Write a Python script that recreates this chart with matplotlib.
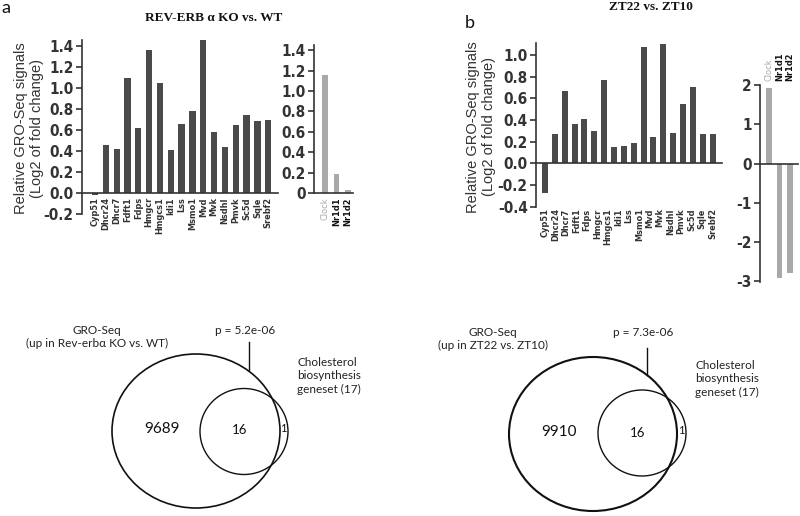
import numpy as np
import matplotlib
matplotlib.use("Agg")
import matplotlib.pyplot as plt
from matplotlib.patches import Ellipse
from matplotlib import font_manager as fm
from matplotlib.transforms import blended_transform_factory

# ---------------- data ----------------
genes = ["Cyp51", "Dhcr24", "Dhcr7", "Fdft1", "Fdps", "Hmgcr", "Hmgcs1", "Idi1", "Lss",
         "Msmo1", "Mvd", "Mvk", "Nsdhl", "Pmvk", "Sc5d", "Sqle", "Srebf2"]
ko_values = [-0.02, 0.46, 0.42, 1.10, 0.62, 1.36, 1.05, 0.41, 0.66,
             0.78, 1.46, 0.58, 0.44, 0.65, 0.74, 0.69, 0.70]
clock_genes = ["Clock", "Nr1d1", "Nr1d2"]
ko_clock_values = [1.16, 0.19, 0.03]
zt_values = [-0.27, 0.27, 0.67, 0.36, 0.41, 0.30, 0.77, 0.15, 0.16,
             0.19, 1.07, 0.24, 1.10, 0.28, 0.55, 0.70, 0.27, 0.27]
zt_clock_values = [1.92, -2.92, -2.78]
ko_ticks = [-0.2, 0.0, 0.2, 0.4, 0.6, 0.8, 1.0, 1.2, 1.4]
ko_clock_ticks = [0, 0.2, 0.4, 0.6, 0.8, 1.0, 1.2, 1.4]
zt_ticks = [-0.4, -0.2, 0.0, 0.2, 0.4, 0.6, 0.8, 1.0]
zt_clock_ticks = [-3, -2, -1, 0, 1, 2]
venn_a = {"only": "9689", "both": "16", "gene_only": "1", "p": "p = 5.2e-06",
          "label": "GRO-Seq\n(up in Rev-erbα KO vs. WT)"}
venn_b = {"only": "9910", "both": "16", "gene_only": "1", "p": "p = 7.3e-06",
          "label": "GRO-Seq\n(up in ZT22 vs. ZT10)"}
geneset_label = "Cholesterol\nbiosynthesis\ngeneset (17)"

# ---------------- fonts ----------------
avail = {f.name for f in fm.fontManager.ttflist}
has_narrow = "Liberation Sans Narrow" in avail
NARROW = ["Liberation Sans Narrow"] if has_narrow else ["DejaVu Sans"]
STRETCH = "normal" if has_narrow else "condensed"
SANS = [f for f in ["Liberation Sans", "DejaVu Sans"] if f in avail]
CAL = [f for f in ["Lato", "Open Sans", "DejaVu Sans"] if f in avail]
SERIF = [f for f in ["Liberation Serif", "DejaVu Serif"] if f in avail]

W, H = 800, 516
fig = plt.figure(figsize=(8, 5.16), dpi=100)
fig.patch.set_facecolor("white")

DARK = "#4a4a4a"
LIGHT = "#a9a9a9"
TXT = "#333333"


def px_axes(left, right, top, bottom):
    return fig.add_axes([left / W, 1 - bottom / H, (right - left) / W, (bottom - top) / H])


def style(ax, yticks, ylabels, fs=11):
    for s in ["top", "right"]:
        ax.spines[s].set_visible(False)
    ax.spines["left"].set_color(TXT)
    ax.spines["left"].set_linewidth(1.2)
    ax.spines["bottom"].set_color(TXT)
    ax.spines["bottom"].set_linewidth(1.2)
    ax.spines["bottom"].set_position(("data", 0))
    ax.set_yticks(yticks)
    ax.set_yticklabels(ylabels, fontfamily=NARROW, fontstretch=STRETCH, fontweight="bold",
                       fontsize=fs, color=TXT)
    ax.tick_params(axis="y", length=4, width=1.2, color=TXT, pad=2)
    ax.set_xticks([])
    ax.patch.set_alpha(0)


def fmt1(v):
    return f"{v:.1f}"


def glabel(ax, x, y, g, va, transform, color=TXT, weight="bold"):
    ax.text(x, y, g, rotation=90, ha="center", va=va, fontsize=6.6,
            fontfamily=NARROW, fontstretch=STRETCH, fontweight=weight,
            color=color, transform=transform)

# overlay for venn and free text
ov = fig.add_axes([0, 0, 1, 1])
ov.set_xlim(0, W)
ov.set_ylim(H, 0)
ov.axis("off")

# ---- panel a left ----
ax1 = px_axes(82, 278, 39.7, 214)
x1 = np.arange(len(genes))
ax1.bar(x1, ko_values, width=0.58, color=DARK)
ax1.set_xlim(-1.2, len(genes) - 0.1)
ax1.set_ylim(-0.2, 1.46)
style(ax1, ko_ticks, [fmt1(v) for v in ko_ticks])
for xi, g in zip(x1, genes):
    glabel(ax1, xi, -0.04, g, "top", ax1.transData)

# ---- panel a right ----
ax2 = px_axes(314, 353, 45, 193)
x2 = np.arange(len(clock_genes))
ax2.bar(x2, ko_clock_values, width=0.5, color=LIGHT)
ax2.set_xlim(-0.96, 2.43)
ax2.set_ylim(0, 1.45)
style(ax2, ko_clock_ticks, ["0"] + [fmt1(v) for v in ko_clock_ticks[1:]])
for xi, g in zip(x2, clock_genes):
    glabel(ax2, xi, -0.04, g, "top", ax2.transData,
           color=LIGHT if g == "Clock" else "#111111",
           weight="normal" if g == "Clock" else "bold")

# ---- panel b left ----
ax3 = px_axes(536, 722, 43, 206.7)
x3 = np.arange(len(zt_values))
ax3.bar(x3, zt_values, width=0.6, color=DARK)
ax3.set_xlim(-0.91, len(zt_values) - 0.05)
ax3.set_ylim(-0.4, 1.11)
style(ax3, zt_ticks, [fmt1(v) for v in zt_ticks])
trb = blended_transform_factory(ax3.transData, ax3.transAxes)
label_pos = np.linspace(0, len(zt_values) - 1, len(genes))
for xi, g in zip(label_pos, genes):
    glabel(ax3, xi, -0.01, g, "top", trb)

# ---- panel b right ----
ax4 = px_axes(760, 798, 84.5, 282)
x4 = np.arange(len(clock_genes))
ax4.bar(x4, zt_clock_values, width=0.55, color=LIGHT)
ax4.set_xlim(-0.86, 2.76)
ax4.set_ylim(-3.02, 2.02)
style(ax4, zt_clock_ticks, [("-" if v < 0 else "") + str(abs(v)) for v in zt_clock_ticks])
trc = blended_transform_factory(ax4.transData, ax4.transAxes)
for xi, g in zip(x4, clock_genes):
    glabel(ax4, xi, 1.02, g, "bottom", trc,
           color=LIGHT if g == "Clock" else "#111111",
           weight="normal" if g == "Clock" else "bold")

# ---- labels / titles ----
ylab = "Relative GRO-Seq signals\n(Log2 of fold change)"
ov.text(29, 128, ylab, rotation=90, ha="center", va="center", fontsize=10.5,
        fontfamily=SANS, color=TXT, linespacing=1.1)
ov.text(481, 127, ylab, rotation=90, ha="center", va="center", fontsize=10.5,
        fontfamily=SANS, color=TXT, linespacing=1.1)
ov.text(214, 18, "REV-ERB α KO vs. WT", ha="center", va="center", fontsize=9.5,
        fontfamily=SERIF, fontweight="bold", color="#111111")
ov.text(651, 7, "ZT22 vs. ZT10", ha="center", va="center", fontsize=9.5,
        fontfamily=SERIF, fontweight="bold", color="#111111")
ov.text(1, 8, "a", ha="left", va="center", fontsize=13, fontfamily=CAL, color="#111111")
ov.text(470, 23, "b", ha="center", va="center", fontsize=13, fontfamily=CAL, color="#111111")

# ---- venn diagrams ----
def venn(cx, cy, scx, scy, d, lx, ly, px, py, lnx, lny0, lny1, gx, gy, lw_big):
    ov.add_patch(Ellipse((cx, cy), 168, 154, fill=False, ec="#111111", lw=lw_big))
    ov.add_patch(Ellipse((scx, scy), 88, 86, fill=False, ec="#111111", lw=1.0))
    ov.text(cx - 34, cy - 2, d["only"], ha="center", va="center", fontsize=11,
            fontfamily=CAL, color="#111111")
    ov.text(scx - 4, cy - 1, d["both"], ha="center", va="center", fontsize=9.5,
            fontfamily=CAL, color="#111111")
    ov.text(scx + 39, cy - 3, d["gene_only"], ha="center", va="center", fontsize=8,
            fontfamily=CAL, color="#111111")
    ov.text(lx, ly, d["label"], ha="center", va="center", fontsize=8.5,
            fontfamily=CAL, color="#222222", linespacing=1.25)
    ov.text(px, py, d["p"], ha="center", va="center", fontsize=8.5,
            fontfamily=CAL, color="#222222")
    ov.plot([lnx, lnx], [lny0, lny1], color="#111111", lw=1.0)
    ov.text(gx, gy, geneset_label, ha="left", va="center", fontsize=8.5,
            fontfamily=CAL, color="#222222", linespacing=1.3)

venn(196, 431, 244, 431.5, venn_a, 97, 337, 245, 330, 249, 342, 370, 297, 376, 1.2)
venn(593, 434, 642, 433, venn_b, 493, 339, 643, 333, 647, 348, 375, 695, 379, 1.5)

fig.savefig("out.png", dpi=100, facecolor="white")
